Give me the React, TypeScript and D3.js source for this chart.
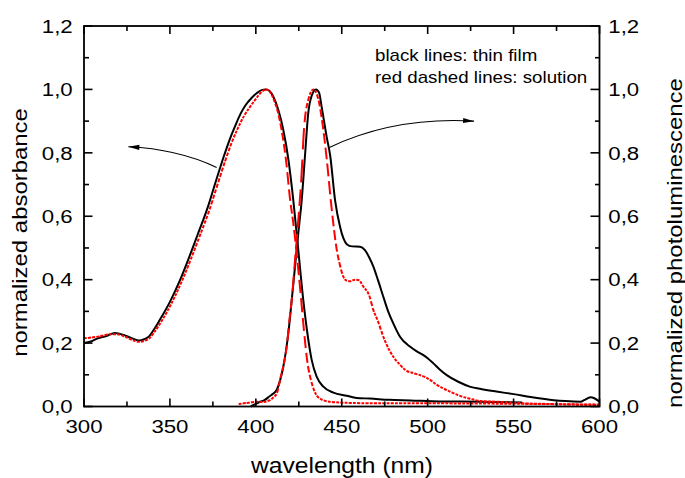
import React, { useRef, useLayoutEffect } from 'react';
import * as d3 from 'd3';

// [wavelength (nm), normalized value]
const absorbanceFilm: [number, number][] = [
  [300, 0.2], [304, 0.205], [308, 0.215], [313, 0.222], [318, 0.232], [323, 0.226], [328, 0.215],
  [332, 0.208], [335, 0.212], [338, 0.222], [341, 0.245], [344, 0.272], [350, 0.33], [356, 0.4],
  [361, 0.468], [366, 0.54], [372, 0.628], [377, 0.715], [381, 0.783], [385, 0.845], [388, 0.885],
  [391, 0.922], [394, 0.95], [397.5, 0.973], [400.5, 0.988], [403, 0.997], [405.9, 1.0],
  [408, 0.995], [410.2, 0.977], [413.1, 0.935], [416, 0.872], [419, 0.777], [421.8, 0.651],
  [424.7, 0.494], [427.6, 0.336], [430, 0.231], [432.5, 0.147], [435.4, 0.094], [439.3, 0.0625],
  [445.1, 0.044], [452.9, 0.034], [458.7, 0.027], [466.4, 0.025], [477.5, 0.021], [490, 0.019],
  [507, 0.016], [530, 0.015], [555, 0.013],
];

const absorbanceSolution: [number, number][] = [
  [300, 0.215], [305, 0.218], [310, 0.222], [315, 0.228], [319, 0.228], [324, 0.22], [329, 0.208],
  [332, 0.204], [335, 0.207], [338, 0.215], [341, 0.235], [345, 0.268], [351, 0.326], [357, 0.396],
  [362, 0.462], [367, 0.533], [373, 0.62], [378, 0.705], [382, 0.772], [386, 0.833], [389.5, 0.877],
  [393, 0.915], [396.6, 0.945], [400, 0.97], [403, 0.99], [406, 1.0], [408.5, 0.99], [411, 0.96],
  [413, 0.925], [415, 0.872], [417.5, 0.78], [420, 0.65], [422, 0.57], [424, 0.47], [426, 0.36],
  [428, 0.24], [430, 0.14], [432, 0.085], [434, 0.05], [437, 0.026], [443, 0.015], [451, 0.012],
  [470, 0.01], [500, 0.01], [540, 0.009], [600, 0.006],
];

const emissionFilm: [number, number][] = [
  [397, 0.0], [400, 0.008], [402.5, 0.015], [405, 0.02], [408.2, 0.033], [410, 0.04], [412.1, 0.052],
  [414, 0.08], [416, 0.126], [418.9, 0.231], [420.9, 0.336], [422.8, 0.441], [424.7, 0.546],
  [426.7, 0.651], [428.6, 0.79], [430.5, 0.925], [432.5, 0.98], [435, 1.0], [436.8, 0.99],
  [438.3, 0.945], [441.2, 0.851], [443.3, 0.79], [446.1, 0.651], [449, 0.567], [451, 0.53],
  [452.9, 0.512], [456, 0.505], [460.6, 0.504], [463.5, 0.493], [466, 0.47], [468.4, 0.441],
  [471, 0.4], [474.2, 0.346], [477, 0.3], [480, 0.262], [483.9, 0.22], [489.7, 0.189], [493, 0.176],
  [497.5, 0.162], [500, 0.152], [503.3, 0.136], [507, 0.117], [511.1, 0.099], [517.8, 0.078],
  [524.9, 0.062], [531, 0.055], [540, 0.047], [550, 0.039], [560, 0.03], [573.4, 0.02], [580, 0.017],
  [589, 0.015], [591, 0.02], [594.8, 0.029], [597, 0.026], [600, 0.015],
];

const emissionSolution: [number, number][] = [
  [390, 0.008], [393, 0.01], [396, 0.012], [400.6, 0.015], [404, 0.014], [408.2, 0.02], [410.5, 0.03],
  [412.3, 0.042], [414.1, 0.084], [416.5, 0.14], [418, 0.19], [419.5, 0.27], [420.9, 0.336],
  [422.8, 0.462], [424.7, 0.588], [426.5, 0.72], [428, 0.872], [430.5, 0.967], [433.5, 1.0],
  [435.5, 0.985], [436.9, 0.956], [439.3, 0.872], [441.3, 0.778], [444.2, 0.62], [447.1, 0.494],
  [449, 0.445], [450.5, 0.415], [452.9, 0.397], [455, 0.395], [457.7, 0.4], [460, 0.398],
  [462.6, 0.378], [466, 0.35], [468.4, 0.304], [471, 0.27], [474.2, 0.22], [477.5, 0.18], [480, 0.157],
  [484, 0.131], [487, 0.115], [491.8, 0.105], [495.5, 0.099], [498, 0.094], [501.4, 0.084],
  [505.4, 0.068], [509.1, 0.057], [515, 0.042], [520, 0.031], [525, 0.024], [531, 0.017],
  [540.4, 0.015], [555, 0.01], [569.5, 0.008], [585, 0.006], [600, 0.005],
];

const xMajorTicks = [300, 350, 400, 450, 500, 550, 600];
const xMinorTicks = [325, 375, 425, 475, 525, 575];
const yMajorTicks = [0, 0.2, 0.4, 0.6, 0.8, 1.0, 1.2];
const yMinorTicks = [0.1, 0.3, 0.5, 0.7, 0.9, 1.1];
const yTickLabels = ['0,0', '0,2', '0,4', '0,6', '0,8', '1,0', '1,2'];
const xTickLabels = ['300', '350', '400', '450', '500', '550', '600'];

const legendLines = ['black lines: thin film', 'red dashed lines: solution'];
const xTitle = 'wavelength (nm)';
const yLeftTitle = 'normalized absorbance';
const yRightTitle = 'normalized photoluminescence';

// annotation arrows in data coordinates: start, control1, control2, tip
const arrowAbs: [number, number][] = [[377.2, 0.754], [364.5, 0.786], [347, 0.814], [325.8, 0.819]];
const arrowPL: [number, number][] = [[442.8, 0.817], [466.5, 0.878], [495.5, 0.91], [527, 0.9]];

const W = 685;
const H = 478;
const L = 84;
const R = 599.5;
const T = 26;
const B = 406.5;
const FONT = '"Liberation Sans", Arial, Helvetica, sans-serif';

function applyDash(path: SVGPathElement | null) {
  if (!path) return;
  const total = path.getTotalLength();
  const step = 0.4;
  const flatPeriod = 4.2;
  const xPeriod = 1.72;
  const duty = 0.72;
  let prev = path.getPointAtLength(0);
  let phase = 0;
  let on = true;
  let run = 0;
  const arr: number[] = [];
  for (let s = step; s <= total; s += step) {
    const p = path.getPointAtLength(s);
    const dx = Math.abs(p.x - prev.x);
    const dy = Math.abs(p.y - prev.y);
    const ds = Math.max(1e-6, Math.hypot(dx, dy));
    const cos = dx / ds;
    const r = Math.min(1 / flatPeriod, cos / xPeriod);
    phase += r * step;
    const frac = phase - Math.floor(phase);
    const nowOn = frac < duty;
    if (nowOn !== on) {
      arr.push(run);
      run = 0;
      on = nowOn;
    }
    run += step;
    prev = p;
  }
  arr.push(run);
  if (arr.length % 2 === 1) arr.push(total);
  path.setAttribute('stroke-dasharray', arr.map((v) => v.toFixed(2)).join(' '));
}

export default function App() {
  const x = d3.scaleLinear().domain([300, 600]).range([L, R]);
  const y = d3.scaleLinear().domain([0, 1.2]).range([B, T]);
  const line = d3
    .line<[number, number]>()
    .x((d) => x(d[0]))
    .y((d) => y(d[1]))
    .curve(d3.curveMonotoneX);

  const redAbs = useRef<SVGPathElement>(null);
  const redPL = useRef<SVGPathElement>(null);

  useLayoutEffect(() => {
    applyDash(redAbs.current);
    applyDash(redPL.current);
  }, []);

  const arrowPath = (pts: [number, number][]) => {
    const p = pts.map((d) => [x(d[0]), y(d[1])]);
    return `M${p[0][0]},${p[0][1]} C${p[1][0]},${p[1][1]} ${p[2][0]},${p[2][1]} ${p[3][0]},${p[3][1]}`;
  };
  const arrowHead = (pts: [number, number][]) => {
    const tip = [x(pts[3][0]), y(pts[3][1])];
    const prev = [x(pts[2][0]), y(pts[2][1])];
    const ang = Math.atan2(tip[1] - prev[1], tip[0] - prev[0]);
    const len = 11;
    const half = 2.6;
    const bx = tip[0] - len * Math.cos(ang);
    const by = tip[1] - len * Math.sin(ang);
    const nx = -Math.sin(ang);
    const ny = Math.cos(ang);
    return `M${tip[0]},${tip[1]} L${bx + nx * half},${by + ny * half} L${bx - nx * half},${by - ny * half} Z`;
  };

  const sx = 1.17;
  const lw = 1.8;

  return (
    <svg
      width={W}
      height={H}
      style={{ position: 'absolute', left: 0, top: 0, background: '#fff' }}
      fontFamily={FONT}
    >
      <rect x={0} y={0} width={W} height={H} fill="#fff" />

      {/* curves */}
      <g fill="none" strokeLinejoin="round">
        <path d={line(absorbanceFilm) || ''} stroke="#000" strokeWidth={2} />
        <path d={line(emissionFilm) || ''} stroke="#000" strokeWidth={2} />
        <path ref={redAbs} d={line(absorbanceSolution) || ''} stroke="#ff0000" strokeWidth={2} />
        <path ref={redPL} d={line(emissionSolution) || ''} stroke="#ff0000" strokeWidth={2} />
      </g>

      {/* frame */}
      <rect x={L} y={T} width={R - L} height={B - T} fill="none" stroke="#000" strokeWidth={lw} />

      {/* ticks */}
      <g stroke="#000" strokeWidth={1.6}>
        {xMajorTicks.map((t) => (
          <g key={'xM' + t}>
            <line x1={x(t)} x2={x(t)} y1={B} y2={B - 8} />
            <line x1={x(t)} x2={x(t)} y1={T} y2={T + 8} />
          </g>
        ))}
        {xMinorTicks.map((t) => (
          <g key={'xm' + t}>
            <line x1={x(t)} x2={x(t)} y1={B} y2={B - 5} />
            <line x1={x(t)} x2={x(t)} y1={T} y2={T + 5} />
          </g>
        ))}
        {yMajorTicks.map((t) => (
          <g key={'yM' + t}>
            <line x1={L} x2={L + 8.5} y1={y(t)} y2={y(t)} />
            <line x1={R} x2={R - 9} y1={y(t)} y2={y(t)} />
          </g>
        ))}
        {yMinorTicks.map((t) => (
          <g key={'ym' + t}>
            <line x1={L} x2={L + 5} y1={y(t)} y2={y(t)} />
            <line x1={R} x2={R - 4.5} y1={y(t)} y2={y(t)} />
          </g>
        ))}
      </g>

      {/* tick labels */}
      <g fontSize={19} fill="#000">
        {xMajorTicks.map((t, i) => (
          <text key={'xl' + t} transform={`translate(${x(t)},433.3) scale(${sx},1)`} textAnchor="middle">
            {xTickLabels[i]}
          </text>
        ))}
        {yMajorTicks.map((t, i) => (
          <text key={'yl' + t} transform={`translate(72.7,${y(t) + 6.8}) scale(${sx},1)`} textAnchor="end">
            {yTickLabels[i]}
          </text>
        ))}
        {yMajorTicks.map((t, i) => (
          <text key={'yr' + t} transform={`translate(608.3,${y(t) + 6.8}) scale(${sx},1)`} textAnchor="start">
            {yTickLabels[i]}
          </text>
        ))}
      </g>

      {/* axis titles */}
      <text transform={`translate(342,472.5) scale(1.12,1)`} textAnchor="middle" fontSize={22}>
        {xTitle}
      </text>
      <text transform={`translate(26.5,232.5) rotate(-90) scale(1.14,1)`} textAnchor="middle" fontSize={21}>
        {yLeftTitle}
      </text>
      <text transform={`translate(681.5,243) rotate(-90) scale(1.14,1)`} textAnchor="middle" fontSize={21}>
        {yRightTitle}
      </text>

      {/* legend text */}
      {legendLines.map((t, i) => (
        <text key={t} transform={`translate(375,${60.7 + i * 22.6}) scale(${sx},1)`} fontSize={16}>
          {t}
        </text>
      ))}

      {/* arrows */}
      <g>
        <path d={arrowPath(arrowAbs)} fill="none" stroke="#000" strokeWidth={1.1} />
        <path d={arrowHead(arrowAbs)} fill="#000" />
        <path d={arrowPath(arrowPL)} fill="none" stroke="#000" strokeWidth={1.1} />
        <path d={arrowHead(arrowPL)} fill="#000" />
      </g>
    </svg>
  );
}
